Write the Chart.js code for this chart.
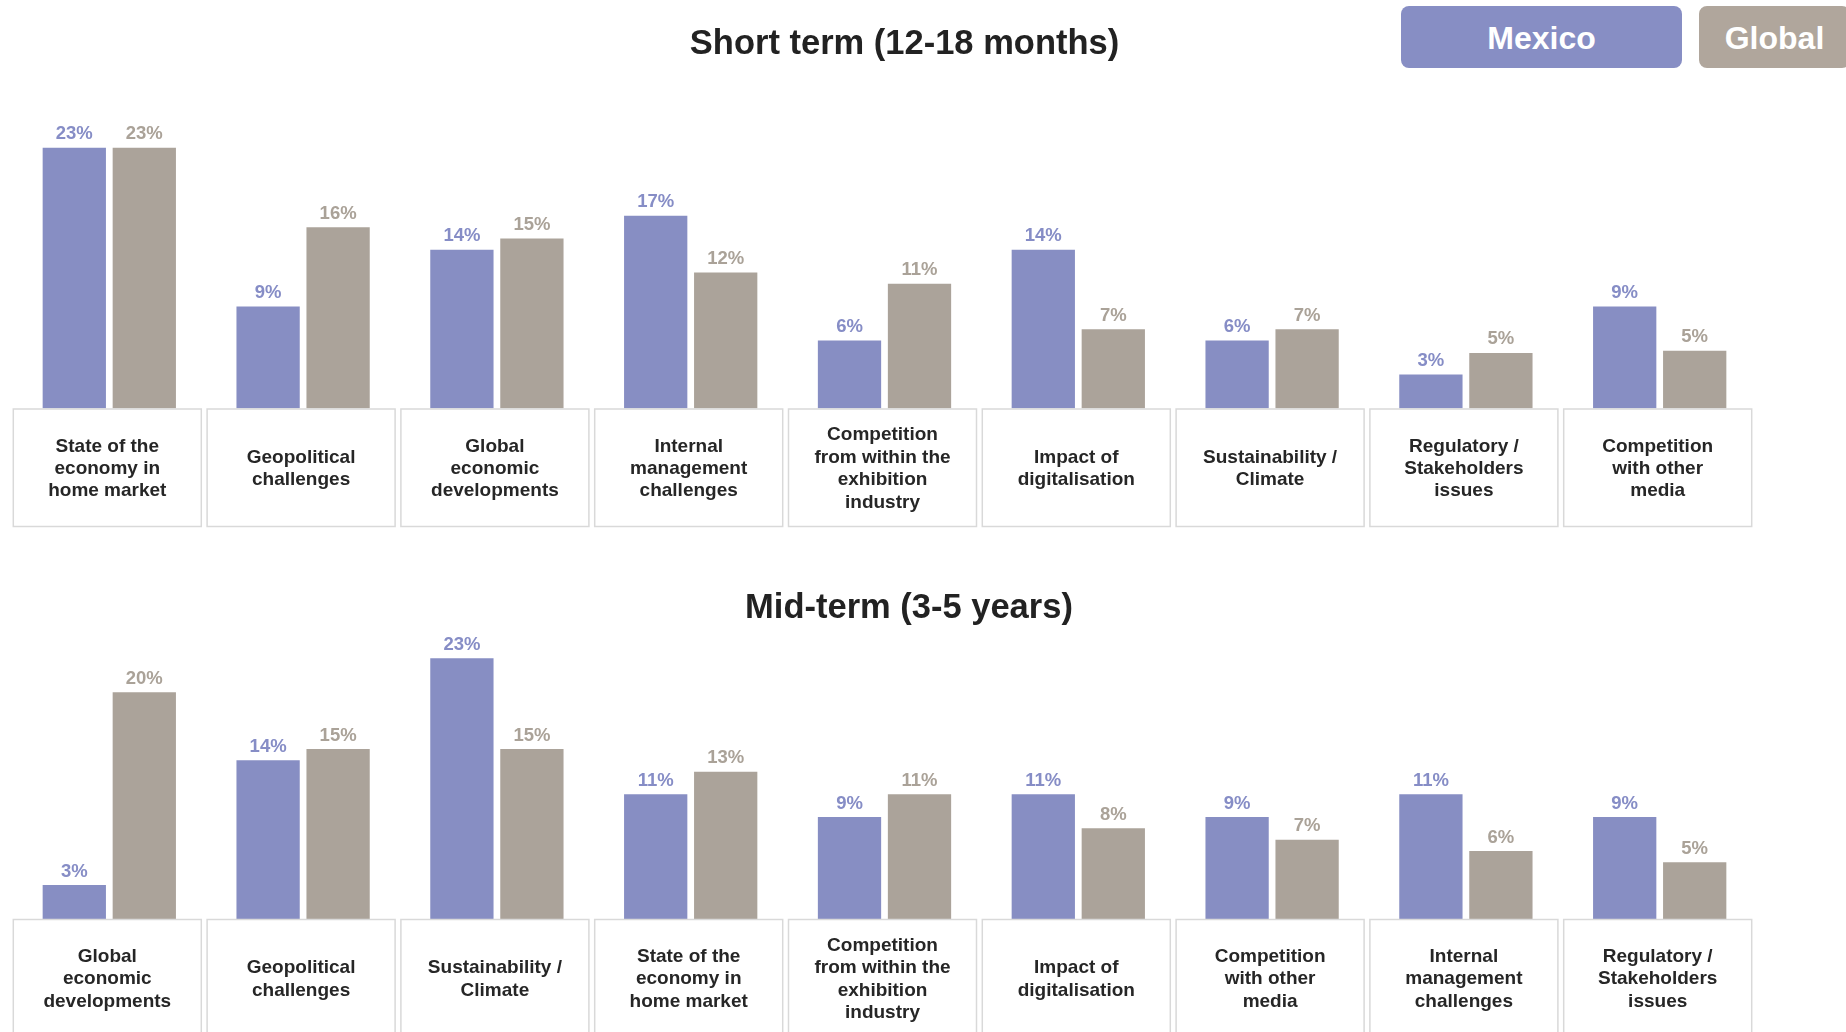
<!DOCTYPE html>
<html>
<head>
<meta charset="utf-8">
<script src="https://cdn.jsdelivr.net/npm/chart.js@4.4.1/dist/chart.umd.min.js"></script>
<style>
  html, body { margin: 0; padding: 0; background: #ffffff; }
  body { width: 1846px; height: 1032px; position: relative; overflow: hidden; font-family: "Liberation Sans", Arial, sans-serif; }
  .title { position: absolute; width: 1000px; text-align: center; font-weight: bold; font-size: 34.5px; line-height: 1; color: #222222; z-index: 5; white-space: nowrap; }
  .pill { position: absolute; top: 6px; height: 62px; line-height: 64px; text-align: center; color: #ffffff; font-weight: bold; font-size: 32px; border-radius: 8px; z-index: 5; }
  canvas { position: absolute; left: 0; }
</style>
</head>
<body>
<div class="title" id="t1" style="left:404.5px; top:25px;">Short term (12-18 months)</div>
<div class="title" id="t2" style="left:409px; top:589px;">Mid-term (3-5 years)</div>
<div class="pill" style="left:1401px; width:281px; background:#878ec4;">Mexico</div>
<div class="pill" style="left:1699px; width:151px; background:#b0a69c;">Global</div>
<canvas id="c1" width="1846" height="530" style="top:0px;"></canvas>
<canvas id="c2" width="1846" height="502" style="top:530px;"></canvas>
<script>
// ---------- DATA ----------
const seriesNames = ["Mexico", "Global"];

const shortCategories = [
  ["State of the", "economy in", "home market"],
  ["Geopolitical", "challenges"],
  ["Global", "economic", "developments"],
  ["Internal", "management", "challenges"],
  ["Competition", "from within the", "exhibition", "industry"],
  ["Impact of", "digitalisation"],
  ["Sustainability /", "Climate"],
  ["Regulatory /", "Stakeholders", "issues"],
  ["Competition", "with other", "media"]
];
const shortMexico = [23, 9, 14, 17, 6, 14, 6, 3, 9];
const shortGlobal = [23, 16, 15, 12, 11, 7, 7, 4.9, 5.1];

const midCategories = [
  ["Global", "economic", "developments"],
  ["Geopolitical", "challenges"],
  ["Sustainability /", "Climate"],
  ["State of the", "economy in", "home market"],
  ["Competition", "from within the", "exhibition", "industry"],
  ["Impact of", "digitalisation"],
  ["Competition", "with other", "media"],
  ["Internal", "management", "challenges"],
  ["Regulatory /", "Stakeholders", "issues"]
];
const midMexico = [3, 14, 23, 11, 9, 11, 9, 11, 9];
const midGlobal = [20, 15, 15, 13, 11, 8, 7, 6, 5];

// ---------- STYLE ----------
const COLOR_MEX = "#878ec3";
const COLOR_GLO = "#aba39a";
const FONT = '"Liberation Sans", Arial, sans-serif';

const boxesPlugin = {
  id: "boxesAndLabels",
  afterDraw(chart, args, opts) {
    const ctx = chart.ctx;
    const xs = chart.scales.x;
    const ys = chart.scales.y;
    const base = ys.getPixelForValue(0);
    const cats = chart.data.labels;
    ctx.save();
    // category boxes
    const boxW = 188, boxH = 117.5;
    for (let i = 0; i < cats.length; i++) {
      const cx = xs.getPixelForValue(i) - 2;
      ctx.strokeStyle = "#d9d9d9";
      ctx.lineWidth = 1.5;
      ctx.strokeRect(cx - boxW / 2, base + 0.5, boxW, boxH);
      const lines = cats[i];
      const lh = 22.4;
      const midY = base + boxH / 2 + 1.5;
      ctx.fillStyle = "#262626";
      ctx.font = "bold 19px " + FONT;
      ctx.textAlign = "center";
      ctx.textBaseline = "middle";
      const startY = midY - (lines.length - 1) * lh / 2;
      lines.forEach((ln, k) => ctx.fillText(ln, cx, startY + k * lh));
    }
    // value labels
    ctx.font = "bold 18.5px " + FONT;
    ctx.textAlign = "center";
    ctx.textBaseline = "alphabetic";
    chart.data.datasets.forEach((ds, di) => {
      const meta = chart.getDatasetMeta(di);
      ctx.fillStyle = ds.labelColor;
      meta.data.forEach((el, j) => {
        ctx.fillText(Math.round(ds.data[j]) + "%", el.x, el.y - 8.5);
      });
    });
    ctx.restore();
  }
};

function makeChart(id, cats, mex, glo, padTop, padBottom) {
  return new Chart(document.getElementById(id), {
    type: "bar",
    data: {
      labels: cats,
      datasets: [
        { label: seriesNames[0], data: mex, backgroundColor: COLOR_MEX, labelColor: "#868dc6", borderWidth: 0,
          categoryPercentage: 0.7224, barPercentage: 0.904 },
        { label: seriesNames[1], data: glo, backgroundColor: COLOR_GLO, labelColor: "#aaa298", borderWidth: 0,
          categoryPercentage: 0.7224, barPercentage: 0.904 }
      ]
    },
    options: {
      responsive: false,
      devicePixelRatio: 1,
      animation: false,
      layout: { padding: { left: 12.4, right: 89.4, top: padTop, bottom: padBottom } },
      plugins: { legend: { display: false }, title: { display: false }, tooltip: { enabled: false } },
      scales: {
        x: { display: false, grid: { display: false } },
        y: { display: false, min: 0, max: 28, grid: { display: false } }
      }
    },
    plugins: [boxesPlugin]
  });
}

makeChart("c1", shortCategories, shortMexico, shortGlobal, 91.2, 121.5);
makeChart("c2", midCategories, midMexico, midGlobal, 71.7, 113);
</script>
</body>
</html>
